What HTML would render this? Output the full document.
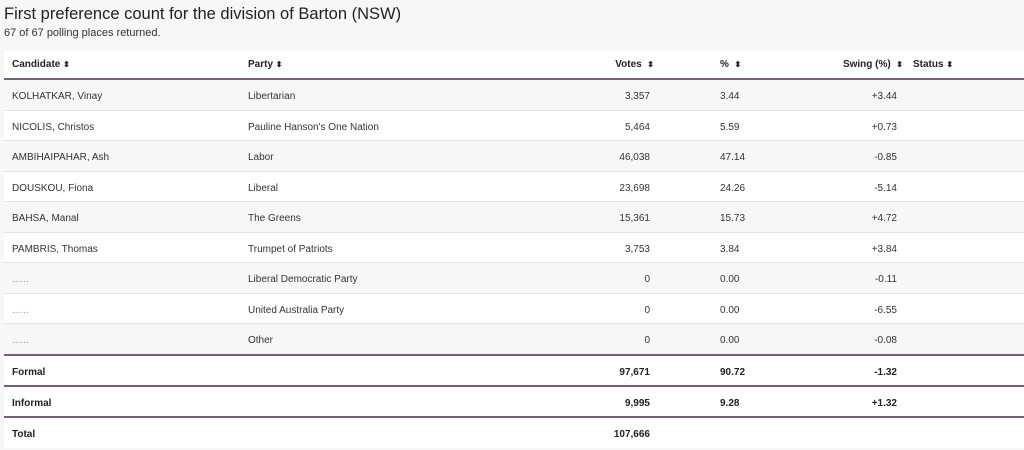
<!DOCTYPE html>
<html><head><style>
body{margin:0;width:1024px;height:444px;overflow:hidden;background:#f7f7f7;font-family:"Liberation Sans",Arial,sans-serif;color:#333;position:relative}
.t{position:absolute;left:4px;top:5px;font-size:16.5px;color:#222}
.s{position:absolute;left:4px;top:27px;font-size:11px;color:#333}
.r{position:absolute;left:4px;width:1020px;height:30px;font-size:10px;border-bottom:1px solid #e4e4e4;box-sizing:border-box}
.r span{position:absolute;top:2px;line-height:30px;white-space:nowrap}
.c1{left:8px}.c2{left:244px}.c3{right:374px}.c4{left:716px}.c5{right:127px}.c6{left:909px}
.h{background:#fff;font-weight:bold;color:#222;border-bottom:2px solid #7b5a82}
.h span{top:0}
.w{background:#fff}.g{background:#f7f7f7}
.b{font-weight:bold;color:#222;background:#fff}
.p{border-bottom:2px solid #7b5a82}
.a{font-size:8px}
</style></head><body>
<div class="t">First preference count for the division of Barton (NSW)</div>
<div class="s">67 of 67 polling places returned.</div>
<div class="r h" style="top:50px;height:30px"><span class="c1">Candidate <b class="a">⬍</b></span><span class="c2">Party <b class="a">⬍</b></span><span class="c3" style="right:370px">Votes &nbsp;<b class="a">⬍</b></span><span class="c4">% &nbsp;<b class="a">⬍</b></span><span class="c5" style="right:121px">Swing (%) &nbsp;<b class="a">⬍</b></span><span class="c6">Status <b class="a">⬍</b></span></div>
<div class="r g" style="top:80px;height:31px"><span class="c1">KOLHATKAR, Vinay</span><span class="c2">Libertarian</span><span class="c3">3,357</span><span class="c4">3.44</span><span class="c5">+3.44</span></div>
<div class="r w" style="top:111px;height:30px"><span class="c1">NICOLIS, Christos</span><span class="c2">Pauline Hanson's One Nation</span><span class="c3">5,464</span><span class="c4">5.59</span><span class="c5">+0.73</span></div>
<div class="r g" style="top:141px;height:31px"><span class="c1">AMBIHAIPAHAR, Ash</span><span class="c2">Labor</span><span class="c3">46,038</span><span class="c4">47.14</span><span class="c5">-0.85</span></div>
<div class="r w" style="top:172px;height:30px"><span class="c1">DOUSKOU, Fiona</span><span class="c2">Liberal</span><span class="c3">23,698</span><span class="c4">24.26</span><span class="c5">-5.14</span></div>
<div class="r g" style="top:202px;height:31px"><span class="c1">BAHSA, Manal</span><span class="c2">The Greens</span><span class="c3">15,361</span><span class="c4">15.73</span><span class="c5">+4.72</span></div>
<div class="r w" style="top:233px;height:30px"><span class="c1">PAMBRIS, Thomas</span><span class="c2">Trumpet of Patriots</span><span class="c3">3,753</span><span class="c4">3.84</span><span class="c5">+3.84</span></div>
<div class="r g" style="top:263px;height:31px"><span class="c1" style="color:#999">......</span><span class="c2">Liberal Democratic Party</span><span class="c3">0</span><span class="c4">0.00</span><span class="c5">-0.11</span></div>
<div class="r w" style="top:294px;height:30px"><span class="c1" style="color:#999">......</span><span class="c2">United Australia Party</span><span class="c3">0</span><span class="c4">0.00</span><span class="c5">-6.55</span></div>
<div class="r g p" style="top:324px;height:32px"><span class="c1" style="color:#999">......</span><span class="c2">Other</span><span class="c3">0</span><span class="c4">0.00</span><span class="c5">-0.08</span></div>
<div class="r b p" style="top:356px;height:31px"><span class="c1">Formal</span><span class="c3">97,671</span><span class="c4">90.72</span><span class="c5">-1.32</span></div>
<div class="r b p" style="top:387px;height:31px"><span class="c1">Informal</span><span class="c3">9,995</span><span class="c4">9.28</span><span class="c5">+1.32</span></div>
<div class="r b" style="top:418px;height:30px;border:0"><span class="c1">Total</span><span class="c3">107,666</span></div>
</body></html>
